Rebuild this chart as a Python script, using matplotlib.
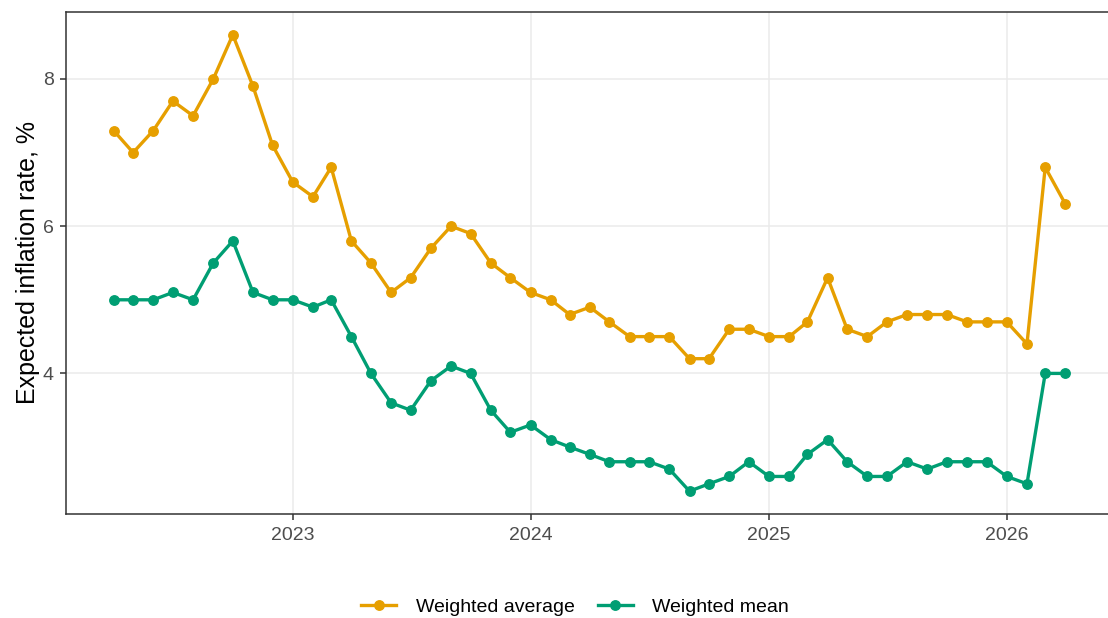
import numpy as np
import pandas as pd
import matplotlib
matplotlib.use("Agg")
import matplotlib.pyplot as plt
import matplotlib.dates as mdates

plt.rcParams['font.family'] = ['Liberation Sans', 'DejaVu Sans']

# monthly survey, Apr 2022 - Apr 2026
months = pd.date_range("2022-04-01", periods=49, freq="MS")

weighted_average = [7.3, 7.0, 7.3, 7.7, 7.5, 8.0, 8.6, 7.9, 7.1, 6.6,
                    6.4, 6.8, 5.8, 5.5, 5.1, 5.3, 5.7, 6.0, 5.9, 5.5,
                    5.3, 5.1, 5.0, 4.8, 4.9, 4.7, 4.5, 4.5, 4.5, 4.2,
                    4.2, 4.6, 4.6, 4.5, 4.5, 4.7, 5.3, 4.6, 4.5, 4.7,
                    4.8, 4.8, 4.8, 4.7, 4.7, 4.7, 4.4, 6.8, 6.3]
weighted_mean = [5.0, 5.0, 5.0, 5.1, 5.0, 5.5, 5.8, 5.1, 5.0, 5.0,
                 4.9, 5.0, 4.5, 4.0, 3.6, 3.5, 3.9, 4.1, 4.0, 3.5,
                 3.2, 3.3, 3.1, 3.0, 2.9, 2.8, 2.8, 2.8, 2.7, 2.4,
                 2.5, 2.6, 2.8, 2.6, 2.6, 2.9, 3.1, 2.8, 2.6, 2.6,
                 2.8, 2.7, 2.8, 2.8, 2.8, 2.6, 2.5, 4.0, 4.0]

series_names = ["Weighted average", "Weighted mean"]
colors = ["#E69F00", "#009E73"]
year_ticks = ["2023", "2024", "2025", "2026"]
y_ticks = [4, 6, 8]

W, H = 1108, 618
fig = plt.figure(figsize=(W / 100, H / 100), dpi=100)
ax = fig.add_axes([66 / W, 1 - 514 / H, (1113 - 66) / W, (514 - 12) / H])

for vals, name, col in zip([weighted_average, weighted_mean], series_names, colors):
    ax.plot(months, vals, color=col, lw=2.4, marker="o", ms=6.8, label=name,
            solid_joinstyle="round", clip_on=False, zorder=3)

# ggplot-like 5% expansion
xn = mdates.date2num(months)
xpad = (xn[-1] - xn[0]) * 0.05
ax.set_xlim(xn[0] - xpad, xn[-1] + xpad)
allv = np.array(weighted_average + weighted_mean)
ypad = (allv.max() - allv.min()) * 0.05
ax.set_ylim(allv.min() - ypad, allv.max() + ypad)

ax.set_xticks([mdates.date2num(pd.Timestamp(y + "-01-01")) for y in year_ticks])
ax.set_xticklabels(year_ticks)
ax.set_yticks(y_ticks)
ax.grid(True, color="#EBEBEB", lw=1.1, zorder=0)
ax.set_axisbelow(True)

for s in ["left", "top", "bottom"]:
    ax.spines[s].set_color("#333333")
    ax.spines[s].set_linewidth(1.1)
ax.spines["right"].set_visible(False)
ax.tick_params(axis="both", colors="#333333", length=4, width=1.1,
               labelsize=14, labelcolor="#4D4D4D", pad=5)

ax.set_ylabel("Expected inflation rate, %", fontsize=18, labelpad=2)

fig.legend(loc="center", bbox_to_anchor=(575 / W, 1 - 607 / H), ncol=2,
           frameon=False, fontsize=14, handlelength=1.8, columnspacing=1.2,
           handletextpad=1.0)

fig.savefig("out.png", dpi=100)
